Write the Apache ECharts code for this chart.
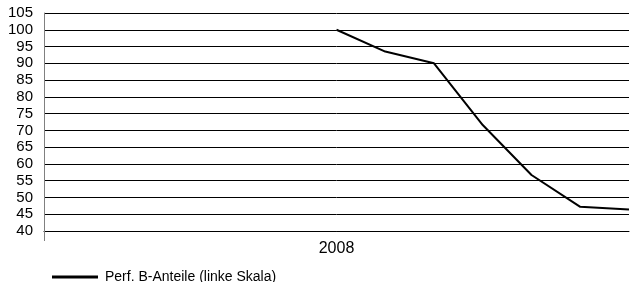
<!DOCTYPE html>
<html>
<head>
<meta charset="utf-8">
<script src="https://cdn.jsdelivr.net/npm/echarts@6/dist/echarts.min.js"></script>
<style>
html,body{margin:0;padding:0;background:#fff;}
#chart{width:632px;height:282px;}
</style>
</head>
<body>
<div id="chart"></div>
<script>
const categories = ['', '', '', '', '', '', '2008', '', '', '', '', '', ''];
const seriesName = 'Perf. B-Anteile (linke Skala)';
const values = [null, null, null, null, null, null, 100, 93.5, 90, 71.6, 56.7, 47.2, 46.4];
const yMin = 40, yMax = 105, yStep = 5;

const chart = echarts.init(document.getElementById('chart'), null, {renderer: 'canvas'});
const font = 'Liberation Sans, Arial, sans-serif';
chart.setOption({
  animation: false,
  backgroundColor: '#fff',
  textStyle: {fontFamily: font},
  grid: {left: 44, right: -2, top: 13, bottom: 51, containLabel: false},
  legend: {
    left: 47, top: 265,
    icon: 'rect', itemWidth: 46, itemHeight: 3, itemGap: 10,
    textStyle: {fontSize: 14, color: '#000', fontFamily: font, padding: [0, 0, 0, 2]},
    data: [seriesName]
  },
  xAxis: {
    type: 'category',
    data: categories,
    boundaryGap: false,
    axisLine: {show: true, lineStyle: {color: '#000', width: 1}},
    axisTick: {show: true, length: 10, interval: function (i) { return i === 0; }, lineStyle: {color: '#808080'}},
    axisLabel: {show: true, interval: 0, fontSize: 16, color: '#000', margin: 10, fontFamily: font},
    splitLine: {show: false}
  },
  yAxis: {
    type: 'value',
    min: yMin, max: yMax, interval: yStep,
    axisLine: {show: true, lineStyle: {color: '#808080', width: 1}},
    axisTick: {show: false},
    axisLabel: {fontSize: 15, color: '#000', margin: 11, fontFamily: font},
    splitLine: {show: true, lineStyle: {color: '#000', width: 1}}
  },
  series: [{
    name: seriesName,
    type: 'line',
    data: values,
    symbol: 'none',
    connectNulls: false,
    lineStyle: {color: '#000', width: 2},
    itemStyle: {color: '#000'}
  }]
});
</script>
</body>
</html>
